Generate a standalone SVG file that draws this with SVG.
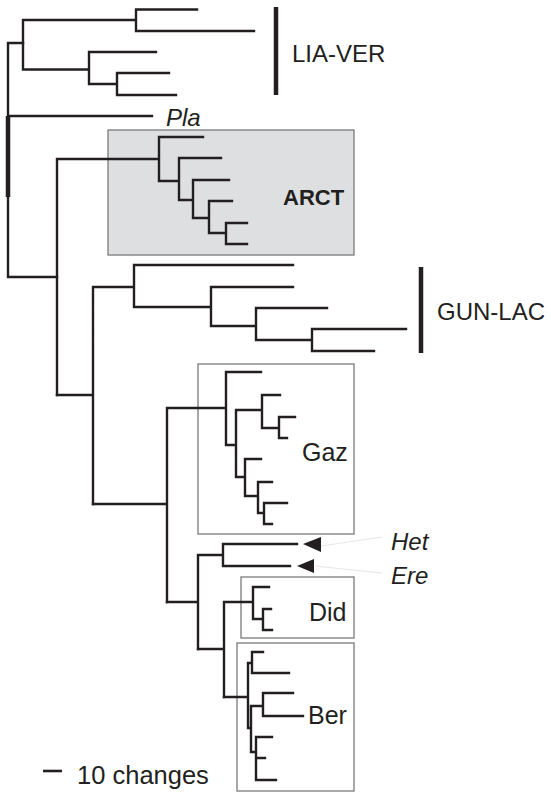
<svg xmlns="http://www.w3.org/2000/svg" width="551" height="792" viewBox="0 0 551 792">
  <style>
    .br { fill: none; stroke: #231f20; stroke-width: 2.4; stroke-linecap: square; stroke-linejoin: miter; }
    .bar { stroke: #231f20; stroke-width: 4.5; }
    .box { fill: #ffffff; stroke: #7a7a7a; stroke-width: 1.3; }
    .shade { fill: #dedfe1; stroke: #7a7a7a; stroke-width: 1.3; }
    .lbl { font-family: "Liberation Sans", Arial, sans-serif; font-size: 24px; fill: #231f20; }
    .big { font-size: 25px; }
    .scl { font-size: 25.5px; }
    .it { font-style: italic; }
    .bold { font-weight: bold; font-size: 22px; }
    .lead { stroke: #e6e6e6; stroke-width: 1; fill: none; }
    .arr { fill: #231f20; }
  </style>

  <!-- clade boxes (drawn first so branches sit on top) -->
  <g id="arct">
    <rect class="shade" x="108" y="130" width="246" height="125"/>
    <text class="lbl bold" x="283" y="205">ARCT</text>
  </g>
  <g id="gaz">
    <rect class="box" x="198" y="364" width="156" height="170"/>
    <text class="lbl big" x="302" y="461">Gaz</text>
  </g>
  <g id="did">
    <rect class="box" x="241" y="577" width="113" height="61"/>
    <text class="lbl big" x="309" y="621">Did</text>
  </g>
  <g id="ber">
    <rect class="box" x="237" y="643" width="117" height="148"/>
    <text class="lbl big" x="308" y="724">Ber</text>
  </g>
  <g id="lia-ver">
    <line class="bar" x1="276" y1="7" x2="276" y2="95"/>
    <text class="lbl" x="292" y="62">LIA-VER</text>
  </g>
  <g id="gun-lac">
    <line class="bar" x1="421" y1="267" x2="421" y2="353"/>
    <text class="lbl" x="437" y="320">GUN-LAC</text>
  </g>
  <g id="pla">
    <text class="lbl it" x="166" y="126">Pla</text>
  </g>
  <g id="het">
    <text class="lbl it" x="391" y="550">Het</text>
  </g>
  <g id="ere">
    <text class="lbl it" x="391" y="584">Ere</text>
  </g>
  <g id="scale">
    <line x1="43" y1="771" x2="62" y2="771" stroke="#231f20" stroke-width="2.6"/>
    <text class="lbl scl" x="77" y="784">10 changes</text>
  </g>

  <!-- tree branches -->
  <g id="branches">
    <!-- root -->
    <path class="br" d="M8 43 V277 M8 43 H23 M8 116 H152 M8 277 H57"/>
    <line x1="8" y1="116" x2="8" y2="197" stroke="#231f20" stroke-width="4.5"/>
    <!-- LIA-VER -->
    <path class="br" d="M23 20 V69.5 M23 20 H136 M136 9.5 V31 M136 9.5 H197 M136 31 H254
                        M23 69.5 H89 M89 52 V84 M89 52 H156 M89 84 H117 M117 73 V95 M117 73 H169 M117 95 H176"/>
    <!-- ARCT -->
    <path class="br" d="M57 159 V395 M57 159 H159 M159 137 V181 M159 137 H203 M159 181 H179
                        M179 158 V200 M179 158 H221 M179 200 H193 M193 180 V218 M193 180 H229 M193 218 H209
                        M209 201 V233 M209 201 H232 M209 233 H226 M226 223 V244 M226 223 H247 M226 244 H247"/>
    <!-- GUN-LAC and rest -->
    <path class="br" d="M57 395 H93 M93 287 V504 M93 287 H134 M134 265 V307 M134 265 H293 M134 307 H211
                        M211 287 V326 M211 287 H293 M211 326 H256 M256 308 V340 M256 308 H327 M256 340 H312
                        M312 329 V351 M312 329 H406 M312 351 H374"/>
    <!-- Gaz -->
    <path class="br" d="M93 504 H167 M167 408 V602 M167 408 H226 M226 372 V445 M226 372 H261 M226 445 H236
                        M236 410 V477 M236 410 H262 M262 395 V428 M262 395 H280 M262 428 H279
                        M279 417 V438 M279 417 H295 M279 438 H287
                        M236 477 H245 M245 459 V496 M245 459 H261 M245 496 H258 M258 482 V513 M258 482 H272
                        M258 513 H264 M264 503 V524 M264 503 H287 M264 524 H272"/>
    <!-- Het / Ere -->
    <path class="br" d="M167 602 H198 M198 555 V649 M198 555 H223 M223 544 V566 M223 544 H297 M223 566 H290"/>
    <!-- Did -->
    <path class="br" d="M198 649 H224 M224 602 V697 M224 602 H253 M253 587 V619 M253 587 H269 M253 619 H263
                        M263 609 V630 M263 609 H271 M263 630 H272"/>
    <!-- Ber -->
    <path class="br" d="M224 697 H248 M248 663 V728 M248 663 H252 M252 652 V673 M252 652 H263 M252 673 H289
                        M248 728 H251 M251 706 V752 M251 706 H263 M263 693 V716 M263 693 H293 M263 716 H303
                        M251 752 H256 M256 737 V780 M256 737 H272 M256 758 H265 M256 780 H276"/>
  </g>

  <!-- pointers to Het and Ere -->
  <g id="pointers">
    <path class="lead" d="M321 546 L382 537 M315 566 L382 573"/>
    <polygon class="arr" points="303,544 321,537 321,552"/>
    <polygon class="arr" points="297,566 314,559 314,573"/>
  </g>
</svg>
